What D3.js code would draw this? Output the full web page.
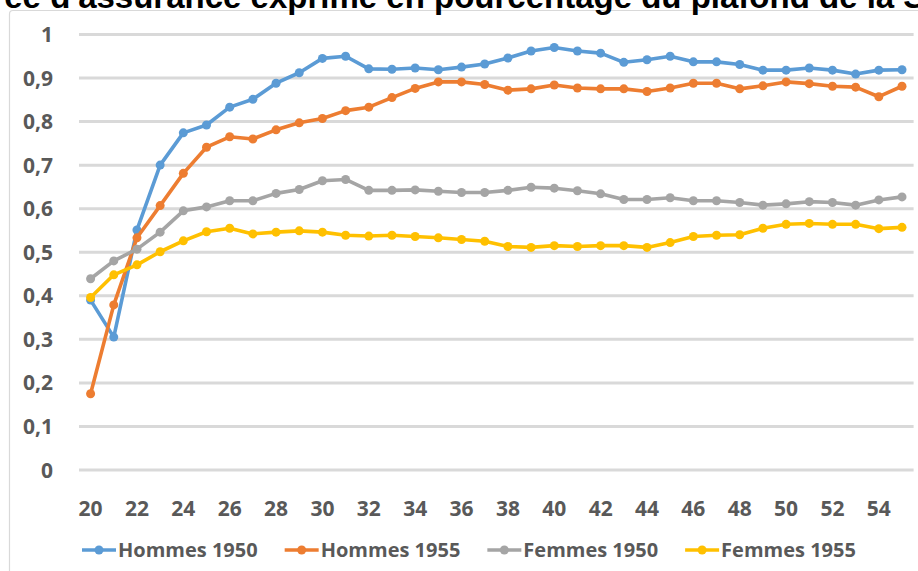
<!DOCTYPE html>
<html lang="fr">
<head>
<meta charset="utf-8">
<script src="https://cdn.jsdelivr.net/npm/d3@7"></script>
<style>
  html, body { margin: 0; padding: 0; background: #ffffff; overflow: hidden; }
  svg { display: block; }
</style>
</head>
<body>
<svg id="chart" width="918" height="571"></svg>
<script>
// Âge (années)
const ages = [20, 21, 22, 23, 24, 25, 26, 27, 28, 29, 30, 31, 32, 33, 34, 35, 36, 37,
              38, 39, 40, 41, 42, 43, 44, 45, 46, 47, 48, 49, 50, 51, 52, 53, 54, 55];

const hommes1950 = [0.389, 0.304, 0.550, 0.699, 0.773, 0.791, 0.832, 0.850, 0.887, 0.911,
                    0.944, 0.949, 0.920, 0.919, 0.922, 0.918, 0.924, 0.931, 0.945, 0.961,
                    0.969, 0.961, 0.956, 0.935, 0.941, 0.949, 0.936, 0.936, 0.930, 0.917,
                    0.917, 0.922, 0.917, 0.908, 0.917, 0.918];

const hommes1955 = [0.174, 0.378, 0.532, 0.606, 0.680, 0.740, 0.764, 0.759, 0.780, 0.796,
                    0.806, 0.824, 0.832, 0.854, 0.875, 0.890, 0.890, 0.884, 0.871, 0.874,
                    0.883, 0.876, 0.874, 0.874, 0.868, 0.876, 0.887, 0.887, 0.874, 0.881,
                    0.890, 0.886, 0.880, 0.878, 0.856, 0.880];

const femmes1950 = [0.438, 0.479, 0.506, 0.545, 0.594, 0.603, 0.617, 0.617, 0.634, 0.643,
                    0.663, 0.666, 0.641, 0.641, 0.642, 0.639, 0.636, 0.636, 0.641, 0.648,
                    0.646, 0.640, 0.633, 0.620, 0.620, 0.624, 0.617, 0.617, 0.613, 0.607,
                    0.610, 0.615, 0.613, 0.607, 0.619, 0.626];

const femmes1955 = [0.395, 0.447, 0.470, 0.500, 0.525, 0.546, 0.554, 0.541, 0.545, 0.548,
                    0.545, 0.538, 0.536, 0.538, 0.535, 0.532, 0.528, 0.524, 0.512, 0.510,
                    0.514, 0.512, 0.514, 0.514, 0.510, 0.521, 0.535, 0.538, 0.539, 0.554,
                    0.563, 0.565, 0.563, 0.563, 0.553, 0.556];

const seriesNames  = ["Hommes 1950", "Hommes 1955", "Femmes 1950", "Femmes 1955"];
const seriesColors = ["#5B9BD5", "#ED7D31", "#A5A5A5", "#FFC000"];
const seriesValues = [hommes1950, hommes1955, femmes1950, femmes1955];

const xTickLabels = [20, 22, 24, 26, 28, 30, 32, 34, 36, 38, 40, 42, 44, 46, 48, 50, 52, 54];
const yTickValues = [0, 0.1, 0.2, 0.3, 0.4, 0.5, 0.6, 0.7, 0.8, 0.9, 1];

const titleText = "Durée d'assurance exprimé en pourcentage du plafond de la Sécurité sociale";

// ---------------------------------------------------------------------------
const svg = d3.select("#chart");
const labelFont = "'Open Sans', Lato, sans-serif";
const labelColor = "#595959";

const frFormat = d3.formatLocale({ decimal: ",", thousands: " ", grouping: [3], currency: ["", " €"] })
  .format(".1~f");

const plot = { left: 79, right: 913.6, top: 34, bottom: 469.5 };

const x = d3.scaleBand().domain(ages).range([plot.left, plot.right]).padding(0);
const cx = a => x(a) + x.bandwidth() / 2;
const y = d3.scaleLinear().domain([0, 1]).range([plot.bottom, plot.top]);

// Chart frame (left and top edges of the chart area)
svg.append("path")
  .attr("d", "M9.5,571 L9.5,14 Q9.5,10.5 13,10.5 L918,10.5")
  .attr("fill", "none")
  .attr("stroke", "#d9d9d9")
  .attr("stroke-width", 1.2);

// Title (runs wider than the chart area)
const titleFont = "'Liberation Sans', Arial, sans-serif";
const title = svg.append("text")
  .attr("y", 7.5)
  .attr("font-family", titleFont)
  .attr("font-weight", 700)
  .attr("font-size", 33)
  .attr("fill", "#000000")
  .text(titleText);
{
  const probe = svg.append("text")
    .attr("font-family", titleFont)
    .attr("font-weight", 700)
    .attr("font-size", 33)
    .style("white-space", "pre")
    .text("Durée d'assurance exprimé en ");
  const w = probe.node().getComputedTextLength();
  probe.remove();
  title.attr("x", 434 - w);
}

// Horizontal gridlines + y labels
const yAxis = d3.axisLeft(y)
  .tickValues(yTickValues)
  .tickFormat(frFormat)
  .tickSize(-(plot.right - plot.left))
  .tickPadding(26);

const gy = svg.append("g")
  .attr("transform", `translate(${plot.left},0)`)
  .call(yAxis);
gy.select(".domain").remove();
gy.selectAll(".tick line")
  .attr("stroke", "#d9d9d9")
  .attr("stroke-width", 3);
gy.selectAll(".tick text")
  .attr("font-family", labelFont)
  .attr("font-weight", 700)
  .attr("font-size", 21)
  .attr("fill", labelColor)
  .attr("dy", "0.36em");

// X labels
const xAxis = d3.axisBottom(x)
  .tickValues(xTickLabels)
  .tickSize(0)
  .tickPadding(0);
const gx = svg.append("g")
  .attr("transform", `translate(0,${plot.bottom})`)
  .call(xAxis);
gx.select(".domain").remove();
gx.selectAll(".tick text")
  .attr("font-family", labelFont)
  .attr("font-weight", 700)
  .attr("font-size", 21)
  .attr("fill", labelColor)
  .attr("dy", 0)
  .attr("y", 46);

// Series lines and markers
const line = d3.line()
  .x((d, i) => cx(ages[i]))
  .y(d => y(d));

seriesValues.forEach((vals, k) => {
  const g = svg.append("g").attr("class", "series");
  g.append("path")
    .datum(vals)
    .attr("d", line)
    .attr("fill", "none")
    .attr("stroke", seriesColors[k])
    .attr("stroke-width", 3.6)
    .attr("stroke-linejoin", "round")
    .attr("stroke-linecap", "round");
  g.selectAll("circle")
    .data(vals)
    .join("circle")
    .attr("cx", (d, i) => cx(ages[i]))
    .attr("cy", d => y(d))
    .attr("r", 4.5)
    .attr("fill", seriesColors[k]);
});

// Legend
const legend = svg.append("g").attr("transform", "translate(82,550)");
let lx = 0;
seriesNames.forEach((name, k) => {
  const item = legend.append("g").attr("transform", `translate(${lx},0)`);
  item.append("line")
    .attr("x1", 0).attr("x2", 34)
    .attr("y1", 0).attr("y2", 0)
    .attr("stroke", seriesColors[k])
    .attr("stroke-width", 3.6);
  item.append("circle")
    .attr("cx", 17).attr("cy", 0).attr("r", 4.5)
    .attr("fill", seriesColors[k]);
  const t = item.append("text")
    .attr("x", 36)
    .attr("dy", "0.36em")
    .attr("font-family", labelFont)
    .attr("font-weight", 700)
    .attr("font-size", 20)
    .attr("fill", labelColor)
    .text(name);
  lx += 36 + t.node().getComputedTextLength() + 27;
});
</script>
</body>
</html>
